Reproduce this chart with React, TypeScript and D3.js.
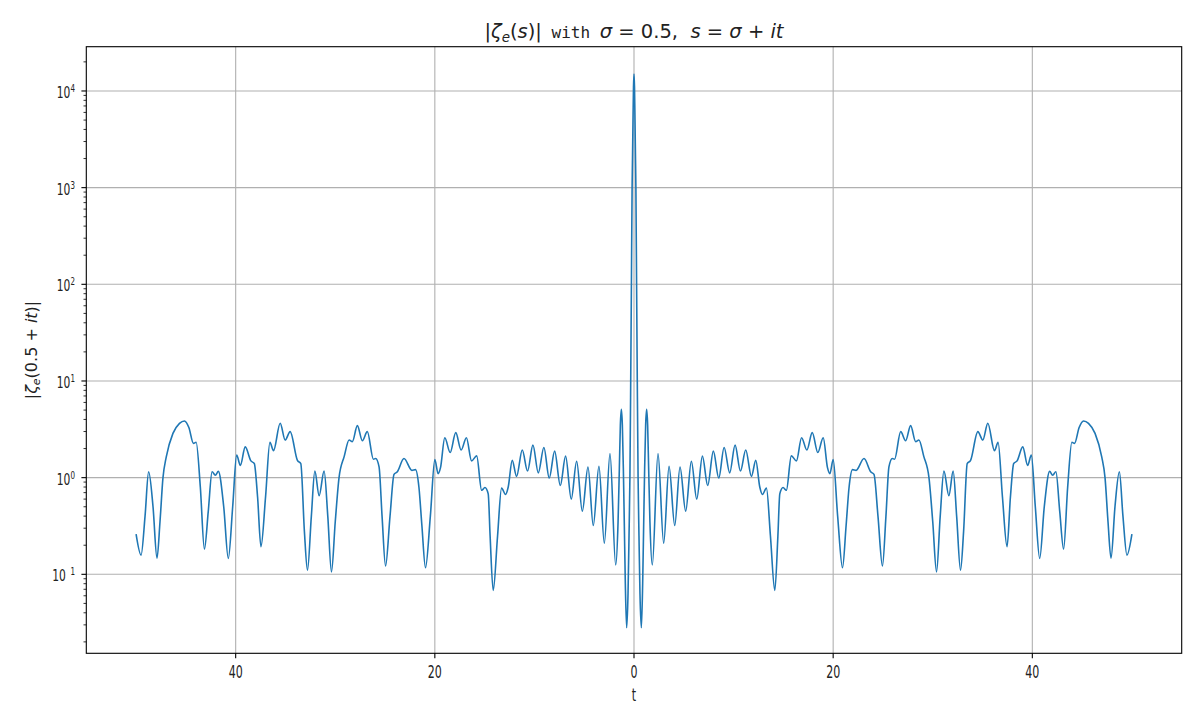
import React, { useEffect, useRef } from "react";
import * as d3 from "d3";

// |zeta_e(0.5 + i t)|, t < 0
const leftBranch: [number, number][] = [
  [-50.0, 0.26], [-49.5, 0.158], [-49.1, 0.4], [-48.74, 1.15], [-48.3, 0.5], [-47.9, 0.147],
  [-47.6, 0.35], [-47.3, 1.0], [-46.97, 1.64], [-46.3, 2.87], [-45.64, 3.65], [-45.14, 3.86],
  [-44.7, 3.3], [-44.24, 2.26], [-43.97, 2.32], [-43.55, 0.8], [-43.14, 0.182], [-42.75, 0.45],
  [-42.37, 1.15], [-42.04, 1.06], [-41.74, 1.16], [-41.2, 0.5], [-40.74, 0.146], [-40.3, 0.5],
  [-39.9, 1.71], [-39.53, 1.34], [-39.04, 2.08], [-38.47, 1.49], [-38.13, 1.4], [-37.8, 0.63],
  [-37.46, 0.193], [-37.0, 0.63], [-36.56, 2.32], [-36.2, 1.9], [-35.53, 3.65], [-35.03, 2.45],
  [-34.53, 2.99], [-33.8, 1.51], [-33.46, 1.4], [-33.1, 0.28], [-32.79, 0.11], [-32.4, 0.4],
  [-32.05, 1.17], [-31.62, 0.65], [-31.12, 1.17], [-30.75, 0.4], [-30.38, 0.106], [-30.0, 0.35],
  [-29.62, 1.0], [-29.1, 1.66], [-28.61, 2.45], [-28.28, 2.36], [-27.78, 3.45], [-27.28, 2.41],
  [-26.78, 2.99], [-26.17, 1.55], [-25.94, 1.58], [-25.6, 1.29], [-25.3, 0.4], [-24.95, 0.122],
  [-24.5, 0.4], [-24.1, 1.08], [-23.77, 1.15], [-23.1, 1.58], [-22.3, 1.19], [-21.94, 1.21],
  [-21.6, 0.8], [-21.3, 0.32], [-20.94, 0.117], [-20.45, 0.4], [-20.0, 1.54], [-19.67, 1.1],
  [-19.43, 1.27], [-19.0, 2.59], [-18.46, 1.82], [-17.9, 2.92], [-17.36, 1.93], [-16.83, 2.59],
  [-16.31, 1.49], [-15.8, 1.68], [-15.3, 0.74], [-14.97, 0.79], [-14.64, 0.68], [-14.45, 0.25],
  [-14.14, 0.068], [-13.7, 0.25], [-13.3, 0.78], [-12.9, 0.67], [-12.63, 0.8], [-12.23, 1.51],
  [-11.79, 1.03], [-11.22, 1.93], [-10.69, 1.17], [-10.15, 2.17], [-9.61, 1.12], [-9.05, 2.05],
  [-8.51, 0.99], [-7.97, 1.88], [-7.4, 0.83], [-6.87, 1.67], [-6.3, 0.6], [-5.76, 1.48],
  [-5.19, 0.45], [-4.62, 1.29], [-4.09, 0.32], [-3.52, 1.31], [-2.98, 0.21], [-2.41, 1.78],
  [-1.84, 0.125], [-1.6, 0.35], [-1.47, 1.26], [-1.37, 3.5], [-1.27, 5.1], [-1.17, 3.5],
  [-1.07, 1.26], [-0.97, 0.32], [-0.87, 0.08], [-0.74, 0.028], [-0.6, 0.063], [-0.5, 0.25],
  [-0.41, 1], [-0.33, 10], [-0.26, 100], [-0.19, 1000], [-0.15, 2000], [-0.1, 5000], [-0.05, 11000],
];

// t >= 0
const rightBranch: [number, number][] = [
  [0, 15000], [0.05, 11000], [0.1, 5000], [0.15, 2000], [0.19, 1000], [0.26, 100], [0.33, 10],
  [0.41, 1], [0.5, 0.25], [0.6, 0.063], [0.74, 0.028], [0.87, 0.08], [0.97, 0.32], [1.07, 1.26],
  [1.17, 3.5], [1.27, 5.1], [1.37, 3.5], [1.47, 1.26], [1.6, 0.35], [1.84, 0.125], [2.41, 1.78],
  [2.98, 0.21], [3.52, 1.31], [4.09, 0.32], [4.62, 1.29], [5.19, 0.45], [5.76, 1.48], [6.3, 0.6],
  [6.87, 1.67], [7.4, 0.83], [7.97, 1.88], [8.51, 0.99], [9.05, 2.05], [9.61, 1.12], [10.15, 2.17],
  [10.69, 1.17], [11.22, 1.93], [11.79, 1.03], [12.23, 1.51], [12.63, 0.8], [12.9, 0.67],
  [13.3, 0.78], [13.7, 0.25], [14.14, 0.068], [14.45, 0.25], [14.64, 0.68], [14.97, 0.79],
  [15.3, 0.74], [15.8, 1.68], [16.31, 1.49], [16.83, 2.59], [17.36, 1.93], [17.9, 2.92],
  [18.46, 1.82], [19.0, 2.59], [19.43, 1.27], [19.67, 1.1], [20.0, 1.54], [20.45, 0.4],
  [20.94, 0.117], [21.3, 0.32], [21.6, 0.8], [21.94, 1.21], [22.3, 1.19], [23.1, 1.58],
  [23.77, 1.15], [24.1, 1.08], [24.5, 0.4], [24.95, 0.122], [25.3, 0.4], [25.6, 1.29],
  [25.94, 1.58], [26.17, 1.55], [26.78, 2.99], [27.28, 2.41], [27.78, 3.45], [28.28, 2.36],
  [28.61, 2.45], [29.1, 1.66], [29.62, 1.0], [30.0, 0.35], [30.38, 0.106], [30.75, 0.4],
  [31.12, 1.17], [31.62, 0.65], [32.05, 1.17], [32.4, 0.4], [32.79, 0.11], [33.1, 0.28],
  [33.46, 1.4], [33.8, 1.51], [34.53, 2.99], [35.03, 2.45], [35.53, 3.65], [36.2, 1.9],
  [36.56, 2.32], [37.0, 0.63], [37.46, 0.193], [37.8, 0.63], [38.13, 1.4], [38.47, 1.49],
  [39.04, 2.08], [39.53, 1.34], [39.9, 1.71], [40.3, 0.5], [40.74, 0.146], [41.2, 0.5],
  [41.74, 1.16], [42.04, 1.06], [42.37, 1.15], [42.75, 0.45], [43.14, 0.182], [43.55, 0.8],
  [43.97, 2.32], [44.24, 2.26], [44.7, 3.3], [45.14, 3.86], [45.64, 3.65], [46.3, 2.87],
  [46.97, 1.64], [47.3, 1.0], [47.6, 0.35], [47.9, 0.147], [48.3, 0.5], [48.74, 1.15],
  [49.1, 0.4], [49.5, 0.158], [50.0, 0.26],
];

const xTickValues = [-40, -20, 0, 20, 40];
const xTickLabels = ["40", "20", "0", "20", "40"];
const yTickExponents = [-1, 0, 1, 2, 3, 4];
const yTickSuperscripts = ["  1", "0", "1", "2", "3", "4"];
const xDomain: [number, number] = [-55, 55];
const yDomainExp: [number, number] = [-1.817, 4.458];

const NARROW_FONT = "'DejaVu Sans', sans-serif";
const NARROW_SCALE = 0.65;
const MONO_FONT = "'DejaVu Sans Mono', monospace";
const MATH_FONT = "'DejaVu Sans', sans-serif";

export default function App() {
  const ref = useRef<SVGSVGElement>(null);

  useEffect(() => {
    const svg = d3.select(ref.current);
    svg.selectAll("*").remove();
    const W = 1200, H = 720;
    const L = 86.3, R = 1181.7, T = 46.7, B = 653.3;
    const x = d3.scaleLinear().domain(xDomain).range([L, R]);
    const y = d3.scaleLog().domain([10 ** yDomainExp[0], 10 ** yDomainExp[1]]).range([B, T]);

    svg.append("rect").attr("width", W).attr("height", H).attr("fill", "#ffffff");

    const grid = svg.append("g").attr("stroke", "#b0b0b0").attr("stroke-width", 1.1);
    xTickValues.forEach((v) => {
      grid.append("line").attr("x1", x(v)).attr("x2", x(v)).attr("y1", T).attr("y2", B);
    });
    yTickExponents.forEach((e) => {
      grid.append("line").attr("x1", L).attr("x2", R).attr("y1", y(10 ** e)).attr("y2", y(10 ** e));
    });

    const data = leftBranch.concat(rightBranch);
    const line = d3
      .line<[number, number]>()
      .x((d) => x(d[0]))
      .y((d) => y(d[1]))
      .curve(d3.curveMonotoneX);
    svg
      .append("path")
      .datum(data)
      .attr("d", line)
      .attr("fill", "none")
      .attr("stroke", "#1f77b4")
      .attr("stroke-width", 1.6)
      .attr("stroke-linejoin", "round");

    // spines
    svg
      .append("rect")
      .attr("x", L).attr("y", T).attr("width", R - L).attr("height", B - T)
      .attr("fill", "none").attr("stroke", "#000").attr("stroke-width", 1.1);

    // x ticks
    const ax = svg.append("g");
    xTickValues.forEach((v, i) => {
      ax.append("line").attr("x1", x(v)).attr("x2", x(v)).attr("y1", B).attr("y2", B + 4.9)
        .attr("stroke", "#000").attr("stroke-width", 1.1);
      ax.append("text")
        .attr("transform", `translate(${x(v)}, ${B + 25}) scale(${NARROW_SCALE}, 1)`)
        .attr("text-anchor", "middle")
        .attr("font-family", NARROW_FONT).attr("font-size", 17).attr("fill", "#222")
        .text(xTickLabels[i]);
    });

    // y ticks
    const ay = svg.append("g");
    yTickExponents.forEach((e, i) => {
      const yy = y(10 ** e);
      ay.append("line").attr("x1", L - 4.9).attr("x2", L).attr("y1", yy).attr("y2", yy)
        .attr("stroke", "#000").attr("stroke-width", 1.1);
      const t = ay.append("text")
        .attr("transform", `translate(75, ${yy + 7}) scale(${NARROW_SCALE}, 1)`)
        .attr("text-anchor", "end")
        .attr("font-family", NARROW_FONT).attr("fill", "#222").style("white-space", "pre");
      t.append("tspan").attr("font-size", 16.5).text("10");
      t.append("tspan").attr("font-size", 11).attr("dy", -6).text(yTickSuperscripts[i]);
    });
    for (let n = -2; n <= 4; n++) {
      for (let k = 2; k <= 9; k++) {
        const v = k * 10 ** n;
        const yy = y(v);
        if (yy < T || yy > B) continue;
        ay.append("line").attr("x1", L - 2.8).attr("x2", L).attr("y1", yy).attr("y2", yy)
          .attr("stroke", "#000").attr("stroke-width", 0.8);
      }
    }

    // x label
    svg.append("text")
      .attr("transform", `translate(${(L + R) / 2}, 701) scale(${NARROW_SCALE}, 1)`)
      .attr("text-anchor", "middle")
      .attr("font-family", NARROW_FONT).attr("font-size", 17).attr("fill", "#222").text("t");

    // y label
    const yl = svg.append("text")
      .attr("transform", `translate(37, ${(T + B) / 2}) rotate(-90)`)
      .attr("text-anchor", "middle").attr("font-family", MATH_FONT).attr("font-size", 16)
      .attr("fill", "#222").style("white-space", "pre");
    yl.append("tspan").text("|");
    yl.append("tspan").attr("font-style", "italic").text("ζ");
    yl.append("tspan").attr("font-style", "italic").attr("font-size", 11).attr("dy", 3).text("e");
    yl.append("tspan").attr("dy", -3).text("(0.5 + ");
    yl.append("tspan").attr("font-style", "italic").text("it");
    yl.append("tspan").text(")|");

    // title
    const tt = svg.append("text").attr("x", (L + R) / 2).attr("y", 38).attr("text-anchor", "middle")
      .attr("font-family", MATH_FONT).attr("font-size", 19.5).attr("fill", "#222")
      .style("white-space", "pre");
    tt.append("tspan").text("|");
    tt.append("tspan").attr("font-style", "italic").text("ζ");
    tt.append("tspan").attr("font-style", "italic").attr("font-size", 13.5).attr("dy", 4).text("e");
    tt.append("tspan").attr("dy", -4).text("(");
    tt.append("tspan").attr("font-style", "italic").text("s");
    tt.append("tspan").text(")|");
    tt.append("tspan").attr("font-family", MONO_FONT).attr("font-size", 16).attr("font-weight", 300)
      .text(" with ");
    tt.append("tspan").attr("font-style", "italic").text("σ");
    tt.append("tspan").text(" = 0.5,  ");
    tt.append("tspan").attr("font-style", "italic").text("s");
    tt.append("tspan").text(" = ");
    tt.append("tspan").attr("font-style", "italic").text("σ");
    tt.append("tspan").text(" + ");
    tt.append("tspan").attr("font-style", "italic").text("it");
  }, []);

  return (
    <div style={{ position: "absolute", left: 0, top: 0 }}>
      <svg ref={ref} width={1200} height={720} style={{ display: "block" }} />
    </div>
  );
}
